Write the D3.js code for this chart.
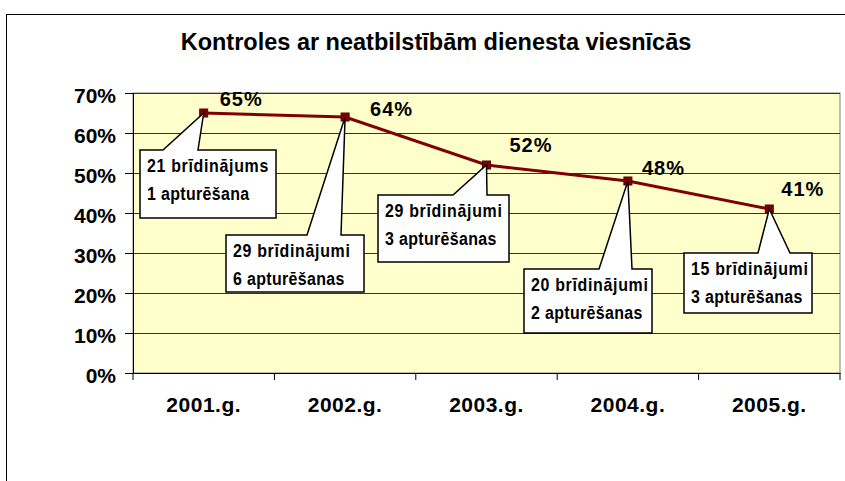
<!DOCTYPE html>
<html>
<head>
<meta charset="utf-8">
<script src="https://cdn.jsdelivr.net/npm/d3@7"></script>
<style>
body { margin: 0; background: #fff; }
text { font-family: "Liberation Sans", Arial, sans-serif; font-weight: bold; fill: #000; }
</style>
</head>
<body>
<svg width="845" height="481"></svg>
<script>
var years = ["2001.g.", "2002.g.", "2003.g.", "2004.g.", "2005.g."];
var shares = [65, 64, 52, 48, 41];
var warnings = ["21 brīdinājums", "29 brīdinājumi", "29 brīdinājumi", "20 brīdinājumi", "15 brīdinājumi"];
var suspensions = ["1 apturēšana", "6 apturēšanas", "3 apturēšanas", "2 apturēšanas", "3 apturēšanas"];
var yTicks = [0, 10, 20, 30, 40, 50, 60, 70];

// callout boxes: x, y, w, h and pointer base offsets (from box left)
var boxes = [
  {x: 140, y: 150, w: 136, h: 68, b1: 23, b2: 58},
  {x: 226, y: 235, w: 138, h: 57, b1: 81, b2: 115},
  {x: 378, y: 195, w: 131, h: 67, b1: 75, b2: 109},
  {x: 524, y: 269, w: 128, h: 64, b1: 75, b2: 108},
  {x: 684, y: 253, w: 128, h: 60, b1: 74, b2: 106}
];
// value label offsets from the point
var labelOff = [[16, -7], [25, -1], [23, -13], [14, -6], [12, -13]];

var svg = d3.select("svg");
var margin = {left: 133, right: 5, top: 93, bottom: 108};
var width = 840 - margin.left, height = 373 - margin.top;

// outer chart frame (runs off the page)
svg.append("rect").attr("x", 6.5).attr("y", 14.5).attr("width", 900).attr("height", 600)
  .attr("fill", "none").attr("stroke", "#000").attr("stroke-width", 1);

svg.append("text").attr("x", 436).attr("y", 50).attr("text-anchor", "middle")
  .style("font-size", "23.5px").text("Kontroles ar neatbilstībām dienesta viesnīcās");

var g = svg.append("g").attr("transform", "translate(" + margin.left + "," + margin.top + ")");

var x = d3.scaleBand().domain(years).range([0, width]);
var y = d3.scaleLinear().domain([0, 70]).range([height, 0]);

g.append("rect").attr("width", width).attr("height", height)
  .attr("fill", "#FFFFCC").attr("stroke", "#808080").attr("stroke-width", 1);

g.selectAll(".grid").data(yTicks.slice(1)).enter().append("line")
  .attr("x1", 0).attr("x2", width)
  .attr("y1", function(d) { return Math.round(y(d)) + 0.5; })
  .attr("y2", function(d) { return Math.round(y(d)) + 0.5; })
  .attr("stroke", "#333").attr("stroke-width", 1);

var yAxis = g.append("g")
  .call(d3.axisLeft(y).tickValues(yTicks).tickSize(8).tickPadding(9).tickFormat(function(d) { return d + "%"; }));
yAxis.selectAll("text").style("font-size", "21px").attr("dy", "0.47em");

var xAxis = g.append("g").attr("transform", "translate(0," + height + ")")
  .call(d3.axisBottom(x).tickSize(0).tickPadding(24));
xAxis.selectAll("text").style("font-size", "21px").style("letter-spacing", "0.5px");
xAxis.selectAll(".edge").data(years.concat([""])).enter().append("line").attr("class", "edge")
  .attr("x1", function(d, i) { return i < years.length ? x(years[i]) : width; })
  .attr("x2", function(d, i) { return i < years.length ? x(years[i]) : width; })
  .attr("y1", 0).attr("y2", 7).attr("stroke", "#000");
g.selectAll(".domain").attr("stroke", "#000");

var px = function(i) { return x(years[i]) + x.bandwidth() / 2; };

var line = d3.line().x(function(d, i) { return px(i); }).y(function(d) { return y(d); });
g.append("path").datum(shares).attr("d", line)
  .attr("fill", "none").attr("stroke", "#800000").attr("stroke-width", 3);

g.selectAll(".pt").data(shares).enter().append("rect")
  .attr("x", function(d, i) { return px(i) - 4; })
  .attr("y", function(d) { return y(d) - 4; })
  .attr("width", 8).attr("height", 8)
  .attr("fill", "#800000").attr("stroke", "#5a0000").attr("stroke-width", 1);

g.selectAll(".val").data(shares).enter().append("text")
  .attr("x", function(d, i) { return px(i) + labelOff[i][0]; })
  .attr("y", function(d, i) { return y(d) + labelOff[i][1]; })
  .style("font-size", "20px").style("letter-spacing", "1px")
  .text(function(d) { return d + "%"; });

// callouts (text is tall and narrow in the original, so squeeze it)
var co = svg.append("g");
boxes.forEach(function(b, i) {
  var tx = margin.left + px(i), ty = margin.top + y(shares[i]);
  var p = d3.path();
  p.moveTo(b.x, b.y);
  p.lineTo(b.x + b.b1, b.y);
  p.lineTo(tx, ty);
  p.lineTo(b.x + b.b2, b.y);
  p.lineTo(b.x + b.w, b.y);
  p.lineTo(b.x + b.w, b.y + b.h);
  p.lineTo(b.x, b.y + b.h);
  p.closePath();
  co.append("path").attr("d", p.toString())
    .attr("fill", "#fff").attr("stroke", "#000").attr("stroke-width", 1.5);
  co.append("text").attr("transform", "translate(" + (b.x + 7) + "," + (b.y + 22) + ") scale(0.84,1)")
    .style("font-size", "19px").style("letter-spacing", "0.8px").text(warnings[i]);
  co.append("text").attr("transform", "translate(" + (b.x + 7) + "," + (b.y + 50) + ") scale(0.84,1)")
    .style("font-size", "19px").style("letter-spacing", "0.4px").text(suspensions[i]);
});
</script>
</body>
</html>
